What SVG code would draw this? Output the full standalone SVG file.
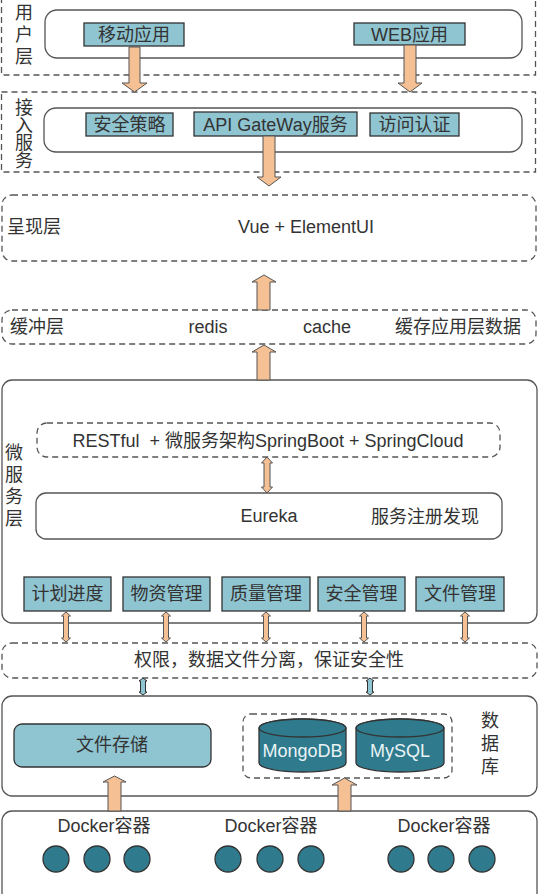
<svg xmlns="http://www.w3.org/2000/svg" width="539" height="894" viewBox="0 0 539 894">
<style>
.dash{fill:none;stroke:#555;stroke-width:1.3;stroke-dasharray:6 4}
.solid{fill:#fff;stroke:#555;stroke-width:1.3}
.box{fill:#8fc4d1;stroke:#333;stroke-width:1.3}
.dark{fill:#2f7b8d;stroke:#333;stroke-width:1.3}
.t{font-family:"Liberation Sans","Noto Sans CJK SC",sans-serif;font-size:18px;fill:#333}
.c{text-anchor:middle}
.w{fill:#e9f3f5}
.arrow{fill:#f5c194;stroke:#555;stroke-width:1}
.barrow{fill:#8fc4d1;stroke:#333;stroke-width:1}
</style>
<rect width="539" height="894" fill="#fff"/>

<g id="user-layer">
<rect class="dash" x="1.5" y="-5" width="534" height="80"/>
<text class="t c" font-size="17" x="24"><tspan x="24" y="19">用</tspan><tspan x="24" y="41">户</tspan><tspan x="24" y="63">层</tspan></text>
<rect class="solid" x="45" y="10" width="477" height="48" rx="12"/>
</g>
<g id="mobile-app"><rect class="box" x="84" y="23" width="100" height="23"/><text class="t c" x="134" y="41">移动应用</text></g>
<g id="web-app"><rect class="box" x="354" y="23" width="111" height="22"/><text class="t c" x="409.5" y="41">WEB应用</text></g>

<g id="access-layer">
<rect class="dash" x="1.5" y="92" width="534" height="80"/>
<text class="t c" font-size="16" x="24"><tspan x="24" y="114">接</tspan><tspan x="24" y="131.5">入</tspan><tspan x="24" y="149">服</tspan><tspan x="24" y="166.5">务</tspan></text>
<rect class="solid" x="44" y="108" width="478" height="44" rx="12"/>
</g>
<g id="security-policy"><rect class="box" x="86" y="113" width="87" height="23"/><text class="t c" x="129.5" y="131">安全策略</text></g>
<g id="api-gateway"><rect class="box" x="194" y="112" width="163" height="24"/><text class="t c" x="275.5" y="131">API GateWay服务</text></g>
<g id="access-auth"><rect class="box" x="370" y="113" width="89" height="23"/><text class="t c" x="414.5" y="131">访问认证</text></g>

<g id="presentation-layer">
<rect class="dash" x="2" y="195" width="534" height="66" rx="10"/>
<text class="t" x="7" y="233">呈现层</text>
<text class="t c" x="306" y="233">Vue + ElementUI</text>
</g>

<g id="buffer-layer">
<rect class="dash" x="2" y="310" width="534" height="34" rx="10"/>
<text class="t" x="10" y="333">缓冲层</text>
<text class="t c" x="208" y="333">redis</text>
<text class="t c" x="327" y="333">cache</text>
<text class="t" x="395" y="333">缓存应用层数据</text>
</g>

<g id="microservice-layer">
<rect class="solid" x="2" y="380" width="535" height="243" rx="10"/>
<text class="t c" font-size="17" x="14"><tspan x="14" y="459">微</tspan><tspan x="14" y="481">服</tspan><tspan x="14" y="503">务</tspan><tspan x="14" y="525">层</tspan></text>
</g>
<g id="restful"><rect class="dash" x="37" y="423" width="463" height="34" rx="10"/><text class="t c" x="268" y="447">RESTful&#160; + 微服务架构SpringBoot + SpringCloud</text></g>
<g id="eureka"><rect class="solid" x="36" y="493" width="466" height="46" rx="10"/><text class="t c" x="269" y="522">Eureka</text><text class="t c" x="425" y="523">服务注册发现</text></g>
<g id="plan"><rect class="box" x="24" y="577" width="87" height="34"/><text class="t c" x="67.5" y="600">计划进度</text></g>
<g id="material"><rect class="box" x="123" y="577" width="87" height="34"/><text class="t c" x="166.5" y="600">物资管理</text></g>
<g id="quality"><rect class="box" x="222" y="577" width="88" height="34"/><text class="t c" x="266" y="600">质量管理</text></g>
<g id="safety"><rect class="box" x="318" y="577" width="87" height="34"/><text class="t c" x="361.5" y="600">安全管理</text></g>
<g id="file-mgmt"><rect class="box" x="416" y="577" width="88" height="34"/><text class="t c" x="460" y="600">文件管理</text></g>

<g id="permission-layer">
<rect class="dash" x="2" y="643" width="535" height="35" rx="10"/>
<text class="t c" x="269" y="666">权限，数据文件分离，保证安全性</text>
</g>

<g id="database-layer">
<rect class="solid" x="2" y="696" width="535" height="100" rx="10"/>
<text class="t c" font-size="17" x="490"><tspan x="490" y="727">数</tspan><tspan x="490" y="750">据</tspan><tspan x="490" y="773">库</tspan></text>
<rect class="dash" x="243" y="714" width="209" height="64" rx="8"/>
</g>
<g id="file-storage"><rect class="box" x="14" y="724" width="197" height="43" rx="8"/><text class="t c" x="112" y="751">文件存储</text></g>
<g id="mongodb">
<path class="dark" d="M259,728 A43.5,9 0 0 1 346,728 L346,763 A43.5,9 0 0 1 259,763 Z"/>
<ellipse class="dark" cx="302.5" cy="728" rx="43.5" ry="9"/>
<text class="t c w" x="302.5" y="757">MongoDB</text>
</g>
<g id="mysql">
<path class="dark" d="M356,728 A44,9 0 0 1 444,728 L444,763 A44,9 0 0 1 356,763 Z"/>
<ellipse class="dark" cx="400" cy="728" rx="44" ry="9"/>
<text class="t c w" x="400" y="757">MySQL</text>
</g>

<g id="docker-layer">
<rect class="solid" x="2" y="811" width="535" height="100" rx="10"/>
<text class="t c" x="104" y="832">Docker容器</text>
<text class="t c" x="271" y="832">Docker容器</text>
<text class="t c" x="444" y="832">Docker容器</text>
<circle class="dark" cx="56" cy="859" r="13"/>
<circle class="dark" cx="97" cy="859" r="13"/>
<circle class="dark" cx="137" cy="859" r="13"/>
<circle class="dark" cx="228" cy="859" r="13"/>
<circle class="dark" cx="270" cy="859" r="13"/>
<circle class="dark" cx="311" cy="859" r="13"/>
<circle class="dark" cx="401" cy="859" r="13"/>
<circle class="dark" cx="441" cy="859" r="13"/>
<circle class="dark" cx="482" cy="859" r="13"/>
</g>

<g id="connectors">
<path class="arrow" d="M129,47 L140,47 L140,83 L147,83 L134.5,92 L122,83 L129,83 Z"/>
<path class="arrow" d="M404,45 L416,45 L416,83 L422,83 L410,92 L398,83 L404,83 Z"/>
<path class="arrow" d="M263,136 L275,136 L275,177 L281,177 L269,186 L257,177 L263,177 Z"/>
<path class="arrow" d="M257,310 L257,282 L252,282 L264,275 L276,282 L270,282 L270,310 Z"/>
<path class="arrow" d="M257,380 L257,352 L252,352 L264,345 L276,352 L270,352 L270,380 Z"/>
<path class="arrow" d="M267,457 L272.5,463 L270,463 L270,487 L272.5,487 L267,493 L261.5,487 L264,487 L264,463 L261.5,463 Z"/>
<path class="arrow" d="M66,612 L70.5,616 L68.5,616 L68.5,638 L70.5,638 L66,642 L61.5,638 L63.5,638 L63.5,616 L61.5,616 Z"/>
<path class="arrow" d="M166,612 L170.5,616 L168.5,616 L168.5,638 L170.5,638 L166,642 L161.5,638 L163.5,638 L163.5,616 L161.5,616 Z"/>
<path class="arrow" d="M266,612 L270.5,616 L268.5,616 L268.5,638 L270.5,638 L266,642 L261.5,638 L263.5,638 L263.5,616 L261.5,616 Z"/>
<path class="arrow" d="M364,612 L368.5,616 L366.5,616 L366.5,638 L368.5,638 L364,642 L359.5,638 L361.5,638 L361.5,616 L359.5,616 Z"/>
<path class="arrow" d="M465,612 L469.5,616 L467.5,616 L467.5,638 L469.5,638 L465,642 L460.5,638 L462.5,638 L462.5,616 L460.5,616 Z"/>
<path class="barrow" d="M143,678 L147,681 L145.5,681 L145.5,692 L147,692 L143,695 L139,692 L140.5,692 L140.5,681 L139,681 Z"/>
<path class="barrow" d="M370,678 L374,681 L372.5,681 L372.5,692 L374,692 L370,695 L366,692 L367.5,692 L367.5,681 L366,681 Z"/>
<path class="arrow" d="M108,811 L108,782 L103,782 L114.5,776 L126,782 L121,782 L121,811 Z"/>
<path class="arrow" d="M338,811 L338,785 L332,785 L344.5,778 L357,785 L351,785 L351,811 Z"/>
</g>
</svg>
